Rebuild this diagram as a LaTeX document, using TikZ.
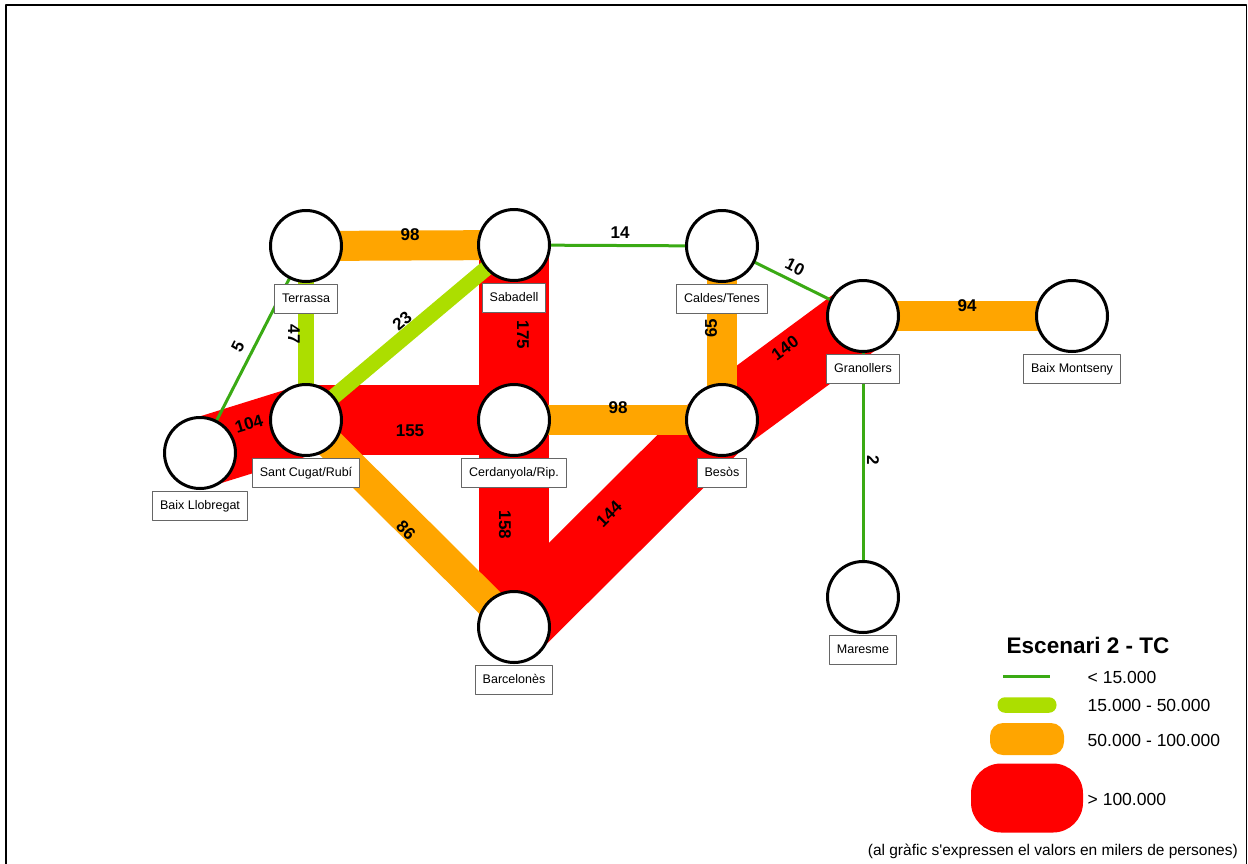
\documentclass[tikz,border=0pt]{standalone}
\usepackage{fontspec}
\setmainfont{Liberation Sans}
\usetikzlibrary{positioning}
\usetikzlibrary{backgrounds}
\definecolor{fred}{RGB}{255,0,0}
\definecolor{forange}{RGB}{255,165,0}
\definecolor{flime}{RGB}{172,222,0}
\definecolor{fgreen}{RGB}{58,170,20}
\tikzset{zone/.style={circle, draw=black, line width=3pt, fill=white, minimum size=71pt, inner sep=0pt}}
\tikzset{lbl/.style={draw=black!60, line width=1.2pt, fill=white, font=\fontsize{12.5}{12.5}\selectfont, inner xsep=7.5pt, inner ysep=0pt, minimum height=29pt, text height=9pt, text depth=2pt}}
\tikzset{n/.style={font=\fontsize{17}{17}\selectfont\bfseries, inner sep=0pt}}
\tikzset{w1/.style={draw=fgreen, line width=3pt}}
\tikzset{w2/.style={draw=flime, line width=15.5pt}}
\tikzset{w3/.style={draw=forange, line width=30pt}}
\tikzset{w4/.style={draw=fred, line width=70pt}}
\tikzset{key/.style={inner sep=0pt, minimum width=#1}}
\tikzset{ktext/.style={anchor=base west, inner sep=0pt, font=\fontsize{17.5}{17.5}\selectfont}}

\begin{document}
\begin{tikzpicture}[x=1pt, y=-1pt, line join=round]
            \useasboundingbox (0,0) rectangle (1248,863);
            \clip (0,0) rectangle (1248,863);
            \draw[line width=1.5pt] (6,880) -- (6,5) -- (1246.5,5) -- (1246.5,880);

            \node[zone] (Te) at (306,246) {};
            \node[zone] (Sa) at (514,245) {};
            \node[zone] (Ca) at (722,246) {};
            \node[zone] (Gr) at (863,316) {};
            \node[zone] (BM) at (1072,316) {};
            \node[zone] (SC) at (306,420) {};
            \node[zone] (Ce) at (514,420) {};
            \node[zone] (Be) at (722,420) {};
            \node[zone] (BL) at (200,453) {};
            \node[zone] (Bc) at (514,627) {};
            \node[zone] (Ma) at (863,597) {};

            \begin{scope}[on background layer]
              \draw[w4] (Sa.center) -- (Ce.center);
              \draw[w4] (Ce.center) -- (Bc.center);
              \draw[w4] (SC.center) -- (Ce.center);
              \draw[w4] (BL.center) -- (SC.center);
              \draw[w4] (Bc.center) -- (Be.center);
              \draw[w4] (Be.center) -- (Gr.center);
              \draw[w3] (Te.center) -- (Sa.center);
              \draw[w3] (Ce.center) -- (Be.center);
              \draw[w3] (Ca.center) -- (Be.center);
              \draw[w3] (SC.center) -- (Bc.center);
              \draw[w3] (Gr.center) -- (BM.center);
              \draw[w2] (Te.center) -- (SC.center);
              \draw[w2] (SC.center) -- (Sa.center);
              \draw[w1] (Sa.center) -- (Ca.center);
              \draw[w1] (Ca.center) -- (Gr.center);
              \draw[w1] (Te.center) -- (BL.center);
              \draw[w1] (Gr.center) -- (Ma.center);
            \end{scope}

            \node[lbl, below=1pt of Te] (Te-l) {Terrassa};
            \node[lbl, below=1pt of Sa] (Sa-l) {Sabadell};
            \node[lbl, below=1pt of Ca] (Ca-l) {Caldes/Tenes};
            \node[lbl, below=1pt of Gr] (Gr-l) {Granollers};
            \node[lbl, below=1pt of BM] (BM-l) {Baix Montseny};
            \node[lbl, below=1pt of SC] (SC-l) {Sant Cugat/Rubí};
            \node[lbl, below=1pt of Ce] (Ce-l) {Cerdanyola/Rip.};
            \node[lbl, below=1pt of Be] (Be-l) {Besòs};
            \node[lbl, below=1pt of BL] (BL-l) {Baix Llobregat};
            \node[lbl, below=1pt of Bc] (Bc-l) {Barcelonès};
            \node[lbl, below=1pt of Ma] (Ma-l) {Maresme};

            \node[n] (v1) at (410,235) {98};
            \node[n] (v2) at (620,233) {14};
            \node[n, rotate=-27] (v3) at (795,267) {10};
            \node[n] (v4) at (967,306) {94};
            \node[n, rotate=63] (v5) at (238,347) {5};
            \node[n, rotate=-90] (v6) at (294,334) {47};
            \node[n, rotate=40] (v7) at (402,321) {23};
            \node[n, rotate=-90] (v8) at (523,335) {175};
            \node[n, rotate=90] (v9) at (711,328) {65};
            \node[n, rotate=36] (v10) at (785,348) {140};
            \node[n, rotate=17] (v11) at (249,424) {104};
            \node[n] (v12) at (410,431) {155};
            \node[n] (v13) at (618,408) {98};
            \node[n, rotate=-90] (v14) at (873,460) {2};
            \node[n, rotate=-45] (v15) at (406,530) {86};
            \node[n, rotate=-90] (v16) at (505,525) {158};
            \node[n, rotate=45] (v17) at (609,514) {144};

            % legend
            \node[anchor=base, inner sep=0pt, font=\fontsize{22.5}{22.5}\selectfont\bfseries] (ttl) at (1088,653.3) {Escenari 2 - TC};
            \node[key=47pt, minimum height=3pt, fill=fgreen] (k1) at (1026.5,676) {};
            \node[key=59pt, minimum height=15.5pt, fill=flime, rounded corners=7.5pt] (k2) at (1027,705) {};
            \node[key=74pt, minimum height=32pt, fill=forange, rounded corners=13pt] (k3) at (1027,739) {};
            \node[key=112pt, minimum height=69pt, fill=fred, rounded corners=30pt] (k4) at (1027,798) {};
            \node[ktext] (t1) at (1087.5,683.3) {< 15.000};
            \node[ktext] (t2) at (1087.5,711.7) {15.000 - 50.000};
            \node[ktext] (t3) at (1087.5,746) {50.000 - 100.000};
            \node[ktext] (t4) at (1087.5,805.3) {> 100.000};
            \node[anchor=base east, inner sep=0pt, font=\fontsize{15.5}{15.5}\selectfont] (note) at (1238,855) {(al gràfic s\textquotesingle expressen el valors en milers de persones)};
          \end{tikzpicture}
\end{document}
